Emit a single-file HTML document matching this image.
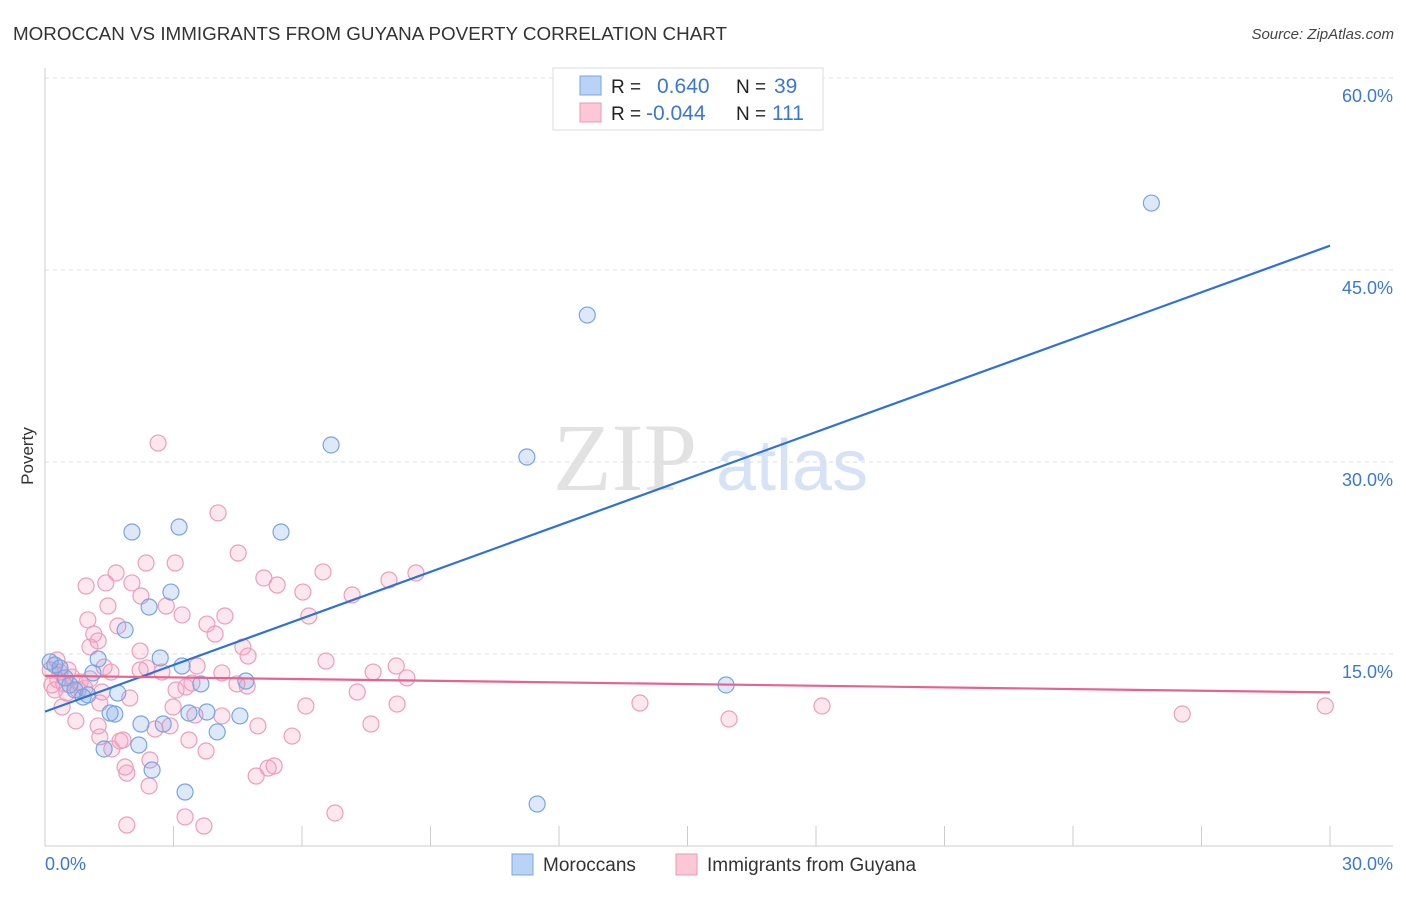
<!DOCTYPE html>
<html><head><meta charset="utf-8"><style>
body{margin:0;background:#fff;font-family:"Liberation Sans",sans-serif}
</style></head><body>
<svg id="chart" width="1406" height="892" xmlns="http://www.w3.org/2000/svg" font-family="Liberation Sans, sans-serif">
<text x="13" y="40" font-size="18" fill="#333" textLength="714" lengthAdjust="spacingAndGlyphs">MOROCCAN VS IMMIGRANTS FROM GUYANA POVERTY CORRELATION CHART</text>
<text x="1394" y="39" font-size="15" fill="#444" text-anchor="end" font-style="italic">Source: ZipAtlas.com</text>
<g>
<text x="553" y="490" font-size="96" fill="#e2e2e2" font-family="Liberation Serif, serif">ZIP</text>
<text x="716" y="490" font-size="72" fill="#d6e3f4">atlas</text>
</g>
<g id="grid"></g>
<g id="axes"></g>
<text transform="translate(33,456) rotate(-90)" font-size="17" fill="#333" text-anchor="middle">Poverty</text>
<g id="pink"></g>
<g id="blue"></g>
<g id="lines"></g>
<g>
<rect x="553" y="68" width="270" height="62" fill="#fff" stroke="#ddd"/>
<rect x="580" y="76" width="21" height="19" fill="#b8d3f5" stroke="#7aa7e0"/>
<rect x="580" y="103" width="21" height="19" fill="#fcc8d8" stroke="#e89ab5"/>
<text x="611" y="93" font-size="19" fill="#222">R = </text><text x="657" y="93" font-size="21" fill="#3a78d4">0.640</text>
<text x="736" y="93" font-size="19" fill="#222">N = </text><text x="774" y="93" font-size="21" fill="#3a78d4">39</text>
<text x="611" y="120" font-size="19" fill="#222">R = </text><text x="646" y="120" font-size="21" fill="#3a78d4">-0.044</text>
<text x="736" y="120" font-size="19" fill="#222">N = </text><text x="772" y="120" font-size="21" fill="#3a78d4">111</text>
</g>
<g>
<rect x="512" y="854" width="21" height="21" fill="#b8d3f5" stroke="#7aa7e0"/>
<text x="543" y="871" font-size="19" fill="#333">Moroccans</text>
<rect x="676" y="854" width="21" height="21" fill="#fcc8d8" stroke="#e89ab5"/>
<text x="707" y="871" font-size="19" fill="#333">Immigrants from Guyana</text>
</g>
</svg>
<script>
const blueX=[25.83,12.66,6.68,11.25,2.03,3.13,5.51,2.94,2.43,1.87,2.69,3.20,1.24,0.12,0.23,1.12,0.47,0.70,0.89,1.70,3.64,4.69,15.90,1.52,1.63,3.36,3.78,4.55,2.24,2.76,4.02,1.38,2.19,2.50,3.27,11.49,0.35,0.58,1.00];
const blueY=[50.23,41.48,31.33,30.39,24.53,24.92,24.53,19.84,18.67,16.88,14.69,14.06,14.61,14.38,14.14,13.52,13.13,12.19,11.64,11.95,12.66,12.89,12.58,10.39,10.31,10.39,10.47,10.16,9.53,9.53,8.91,7.58,7.89,5.94,4.22,3.28,13.91,12.58,11.80];
const pinkX=[2.64,4.04,4.51,2.36,3.04,1.66,0.96,1.42,2.03,5.11,5.42,6.49,8.03,8.66,6.02,7.17,2.24,1.47,2.83,3.20,4.20,6.16,1.00,1.70,3.78,1.14,3.97,1.24,1.05,4.62,4.74,6.56,8.20,1.38,1.54,2.22,2.38,2.73,3.55,4.13,7.66,8.45,0.12,0.30,0.44,0.63,0.82,0.93,0.23,0.51,3.06,3.29,3.43,4.48,4.72,7.29,1.98,1.28,0.40,2.99,6.09,8.22,13.89,18.14,26.55,29.89,15.97,3.50,4.13,0.72,1.24,4.97,7.61,2.57,2.92,1.28,5.77,3.36,1.75,1.56,1.82,3.76,2.45,1.87,1.91,5.35,5.21,4.93,2.43,1.91,3.27,3.71,6.77,0.35,0.54,0.16,0.77,1.05,0.28,1.33,2.22];
const pinkY=[31.48,26.02,22.89,22.11,22.11,21.33,20.31,20.55,20.55,20.94,20.39,21.41,20.78,21.33,19.84,19.61,19.53,18.75,18.75,18.05,17.97,17.97,17.66,17.19,17.34,16.56,16.56,16.02,15.55,15.55,14.84,14.45,14.06,13.98,13.59,13.75,13.91,13.59,14.06,13.52,13.59,13.13,13.75,12.97,12.66,13.20,12.81,12.34,12.19,11.95,12.19,12.42,12.73,12.66,12.50,12.03,11.56,11.17,10.86,10.86,10.94,11.09,11.17,10.94,10.31,10.94,9.92,10.23,10.16,9.77,9.38,9.38,9.53,9.14,9.38,8.52,8.59,8.28,8.20,7.58,8.28,7.42,6.72,6.17,5.70,6.25,6.09,5.47,4.69,1.64,2.27,1.56,2.58,13.59,13.75,12.58,12.19,13.05,14.53,12.03,15.23];
const yTicks=[15,30,45,60];
const yTickLabels=["15.0%","30.0%","45.0%","60.0%"];
const xTicks=[0,3,6,9,12,15,18,21,24,27,30];
const blueTrend=[10.5,46.9];
const pinkTrend=[13.3,12.0];
const X0=45,X1=1330,Y0=846,PXY=12.8;
const sx=v=>X0+(X1-X0)*v/30;
const sy=v=>Y0-v*PXY;
const NS="http://www.w3.org/2000/svg";
function mk(tag,attrs,parent){const e=document.createElementNS(NS,tag);for(const k in attrs)e.setAttribute(k,attrs[k]);parent.appendChild(e);return e;}
const grid=document.getElementById('grid'),axes=document.getElementById('axes');
yTicks.forEach((t,i)=>{
 const l=mk('line',{x1:X0,x2:1393,y1:sy(t),y2:sy(t),stroke:'#ddd','stroke-dasharray':'4,4'},grid);
 
 
 const tx=mk('text',{x:1393,y:sy(t)+24,'font-size':18,fill:'#3a78d4','text-anchor':'end'},axes);
 tx.textContent=yTickLabels[i];
 
 
});
const al=mk('line',{x1:X0,x2:X0,y1:68,y2:Y0,stroke:'#ccc'},axes);


const bl=mk('line',{x1:X0,x2:1393,y1:Y0,y2:Y0,stroke:'#ccc'},axes);


xTicks.forEach(t=>{
 const l=mk('line',{x1:sx(t),x2:sx(t),y1:826,y2:Y0,stroke:'#ccc'},axes);
 
 
});
const xl0=mk('text',{x:45,y:870,'font-size':18,fill:'#3a78d4'},axes);xl0.textContent='0.0%';


const xl1=mk('text',{x:1393,y:870,'font-size':18,fill:'#3a78d4','text-anchor':'end'},axes);xl1.textContent='30.0%';


function pts(xs,ys,g,fill,stroke,name){xs.forEach((x,i)=>{
 const c=mk('circle',{cx:sx(x),cy:sy(ys[i]),r:8,fill:fill,stroke:stroke,'stroke-width':1.2},g);
 
 
});}
pts(pinkX,pinkY,document.getElementById('pink'),'rgba(244,160,190,0.25)','#ec9ebb','guyana-point');
pts(blueX,blueY,document.getElementById('blue'),'rgba(120,165,230,0.25)','#78a5e2','moroccan-point');
const lg=document.getElementById('lines');
const l1=mk('line',{x1:sx(0),y1:sy(blueTrend[0]),x2:sx(30),y2:sy(blueTrend[1]),stroke:'#2e72d8','stroke-width':2.2},lg);


const l2=mk('line',{x1:sx(0),y1:sy(pinkTrend[0]),x2:sx(30),y2:sy(pinkTrend[1]),stroke:'#e8628f','stroke-width':2.2},lg);


</script>
</body></html>
